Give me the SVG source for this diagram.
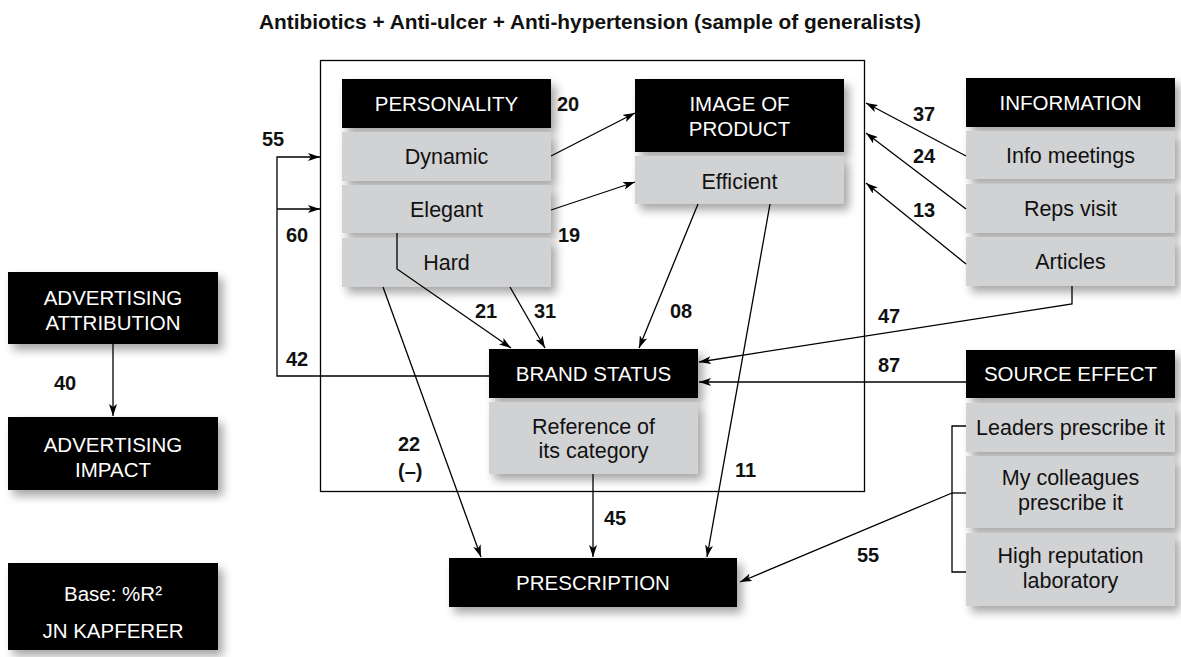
<svg xmlns="http://www.w3.org/2000/svg" width="1181" height="657" viewBox="0 0 1181 657">
  <style>
    .blk { fill: #000; }
    .gry { fill: #d1d2d4; }
    .sh { filter: url(#shadow); }
    .cap { font-family: "Liberation Sans", Arial, sans-serif; font-size: 20.5px; fill: #fff; text-anchor: middle; }
    .txt { font-family: "Liberation Sans", Arial, sans-serif; font-size: 21.5px; fill: #111; text-anchor: middle; }
    .num { font-family: "Liberation Sans", Arial, sans-serif; font-size: 20px; font-weight: bold; fill: #111; }
    .title { font-family: "Liberation Sans", Arial, sans-serif; font-size: 20px; font-weight: bold; fill: #111; }
    .ln { fill: none; stroke: #000; stroke-width: 1.3; }
    .arr { marker-end: url(#head); }
  </style>
  <defs>
    <filter id="shadow" x="-10%" y="-20%" width="130%" height="160%">
      <feDropShadow dx="5" dy="6" stdDeviation="5" flood-color="#000" flood-opacity="0.35"/>
    </filter>
    <marker id="head" viewBox="0 0 12 8" refX="12" refY="4" markerWidth="12" markerHeight="8" markerUnits="userSpaceOnUse" orient="auto">
      <path d="M0,0 L12,4 L0,8 L3,4 z" fill="#000"/>
    </marker>
  </defs>

  <rect width="1181" height="657" fill="#fff"/>

  <!-- title -->
  <text class="title" x="590" y="29" text-anchor="middle" textLength="662" lengthAdjust="spacingAndGlyphs">Antibiotics + Anti-ulcer + Anti-hypertension (sample of generalists)</text>

  <!-- frame around the core constructs -->
  <rect x="320.5" y="60.5" width="544" height="431" fill="none" stroke="#000" stroke-width="1.3"/>

  <!-- nodes -->
  <g id="personality">
    <rect class="blk sh" x="342" y="79" width="209" height="49"/>
    <text class="cap" x="446.5" y="111">PERSONALITY</text>
    <rect class="gry sh" x="342" y="132" width="209" height="49"/>
    <text class="txt" x="446.5" y="164">Dynamic</text>
    <rect class="gry sh" x="342" y="185" width="209" height="48"/>
    <text class="txt" x="446.5" y="217">Elegant</text>
    <rect class="gry sh" x="342" y="238" width="209" height="49"/>
    <text class="txt" x="446.5" y="270">Hard</text>
  </g>

  <g id="image-of-product">
    <rect class="blk sh" x="635" y="79" width="209" height="73"/>
    <text class="cap" x="739.5" y="111">IMAGE OF</text>
    <text class="cap" x="739.5" y="136">PRODUCT</text>
    <rect class="gry sh" x="635" y="156" width="209" height="48"/>
    <text class="txt" x="739.5" y="189">Efficient</text>
  </g>

  <g id="information">
    <rect class="blk sh" x="966" y="78" width="209" height="49"/>
    <text class="cap" x="1070.5" y="110">INFORMATION</text>
    <rect class="gry sh" x="966" y="131" width="209" height="48"/>
    <text class="txt" x="1070.5" y="163">Info meetings</text>
    <rect class="gry sh" x="966" y="184" width="209" height="49"/>
    <text class="txt" x="1070.5" y="216">Reps visit</text>
    <rect class="gry sh" x="966" y="237" width="209" height="49"/>
    <text class="txt" x="1070.5" y="269">Articles</text>
  </g>

  <g id="brand-status">
    <rect class="blk sh" x="489" y="349" width="209" height="49"/>
    <text class="cap" x="593.5" y="381">BRAND STATUS</text>
    <rect class="gry sh" x="489" y="402" width="209" height="72"/>
    <text class="txt" x="593.5" y="434">Reference of</text>
    <text class="txt" x="593.5" y="458">its category</text>
  </g>

  <g id="source-effect">
    <rect class="blk sh" x="966" y="350" width="209" height="48"/>
    <text class="cap" x="1070.5" y="381">SOURCE EFFECT</text>
    <rect class="gry sh" x="966" y="403" width="209" height="49"/>
    <text class="txt" x="1070.5" y="435">Leaders prescribe it</text>
    <rect class="gry sh" x="966" y="456" width="209" height="72"/>
    <text class="txt" x="1070.5" y="485">My colleagues</text>
    <text class="txt" x="1070.5" y="510">prescribe it</text>
    <rect class="gry sh" x="966" y="533" width="209" height="73"/>
    <text class="txt" x="1070.5" y="563">High reputation</text>
    <text class="txt" x="1070.5" y="588">laboratory</text>
  </g>

  <g id="prescription">
    <rect class="blk sh" x="449" y="558" width="288" height="49"/>
    <text class="cap" x="593" y="590">PRESCRIPTION</text>
  </g>

  <g id="advertising-attribution">
    <rect class="blk sh" x="8" y="272" width="210" height="72"/>
    <text class="cap" x="113" y="305">ADVERTISING</text>
    <text class="cap" x="113" y="330">ATTRIBUTION</text>
  </g>

  <g id="advertising-impact">
    <rect class="blk sh" x="8" y="417" width="210" height="73"/>
    <text class="cap" x="113" y="452">ADVERTISING</text>
    <text class="cap" x="113" y="477">IMPACT</text>
  </g>

  <g id="legend">
    <rect class="blk sh" x="8" y="563" width="210" height="87"/>
    <text class="cap" x="113" y="601">Base: %R²</text>
    <text class="cap" x="113" y="638">JN KAPFERER</text>
  </g>

  <!-- connectors (drawn over the boxes) -->
  <g id="connectors">
    <path class="ln arr" d="M551,156 L635,113"/>
    <path class="ln arr" d="M551,210 L635,182"/>
    <path class="ln arr" d="M966,156 L866,103"/>
    <path class="ln arr" d="M966,209 L866,133"/>
    <path class="ln arr" d="M966,264 L866,183"/>
    <path class="ln arr" d="M397,233 L397,269 L511,348"/>
    <path class="ln arr" d="M510,287 L545,348"/>
    <path class="ln arr" d="M698,204 L639,348"/>
    <path class="ln arr" d="M383,287 L481,557"/>
    <path class="ln arr" d="M770,204 L707,557"/>
    <path class="ln arr" d="M593,474 L593,557"/>
    <path class="ln arr" d="M1072,286 L1072,304 L699,362"/>
    <path class="ln arr" d="M966,382 L699,382"/>
    <path class="ln arr" d="M489,376 L277,376 L277,157 L320,157"/>
    <path class="ln arr" d="M277,209 L320,209"/>
    <path class="ln" d="M966,426 L952,426 L952,572 L966,572"/>
    <path class="ln" d="M966,493 L952,493"/>
    <path class="ln arr" d="M952,493 L740,582"/>
    <path class="ln arr" d="M113,344 L113,416"/>
  </g>

  <!-- path coefficients -->
  <g id="labels">
    <text class="num" x="557" y="111">20</text>
    <text class="num" x="558" y="242">19</text>
    <text class="num" x="262" y="146">55</text>
    <text class="num" x="286" y="242">60</text>
    <text class="num" x="286" y="366">42</text>
    <text class="num" x="475" y="318">21</text>
    <text class="num" x="534" y="318">31</text>
    <text class="num" x="670" y="318">08</text>
    <text class="num" x="913" y="121">37</text>
    <text class="num" x="913" y="163">24</text>
    <text class="num" x="913" y="217">13</text>
    <text class="num" x="878" y="323">47</text>
    <text class="num" x="878" y="372">87</text>
    <text class="num" x="398" y="451">22</text>
    <text class="num" x="398" y="478">(–)</text>
    <text class="num" x="735" y="477">11</text>
    <text class="num" x="604" y="525">45</text>
    <text class="num" x="857" y="562">55</text>
    <text class="num" x="54" y="390">40</text>
  </g>
</svg>
